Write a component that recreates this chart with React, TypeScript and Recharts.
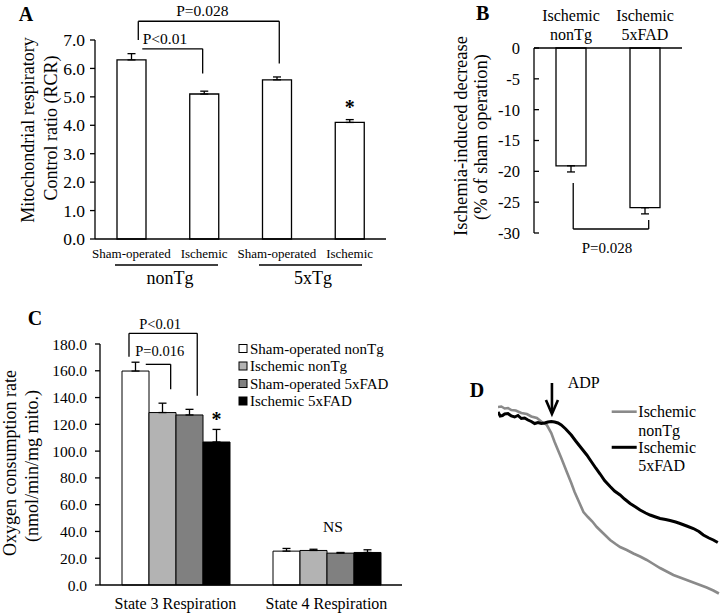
import React from 'react'
import {
  BarChart,
  Bar,
  XAxis,
  YAxis,
  ErrorBar,
  LabelList,
  ReferenceLine,
  LineChart,
  Line,
} from 'recharts'

const FONT = '"Liberation Serif", "Times New Roman", serif'
const INK = '#000'
const STROKE = 1.3

// #region Data
// A: mitochondrial respiratory control ratio
const rcrGroups = ['Sham-operated', 'Ischemic', 'Sham-operated', 'Ischemic']
const rcrMean = [6.3, 5.1, 5.6, 4.1]
const rcrSem = [0.22, 0.1, 0.1, 0.1]
const rcrMark = ['', '', '', '*']
const rcrTicks = [0, 1, 2, 3, 4, 5, 6, 7]

// B: ischemia-induced decrease (% of sham operation)
const dropGroups = ['Ischemic|nonTg', 'Ischemic|5xFAD']
const dropMean = [-19.1, -25.9]
const dropSem = [1.0, 1.0]
const dropTicks = [0, -5, -10, -15, -20, -25, -30]

// C: oxygen consumption rate
const stateLabels = ['State 3 Respiration', 'State 4 Respiration']
const groupNames = ['Sham-operated nonTg', 'Ischemic nonTg', 'Sham-operated 5xFAD', 'Ischemic 5xFAD']
const groupFills = ['#ffffff', '#b3b3b3', '#808080', '#000000']
const ocrMean = [
  [159.8, 25.3],
  [128.8, 25.8],
  [127.0, 23.8],
  [106.8, 24.3],
]
const ocrSem = [
  [6.6, 2.0],
  [7.0, 0.9],
  [4.2, 0.5],
  [9.4, 2.0],
]
const ocrMark = [
  ['', ''],
  ['', ''],
  ['', ''],
  ['*', ''],
]
const ocrTicks = [0, 20, 40, 60, 80, 100, 120, 140, 160, 180]

// D: oxygen electrode traces (time in s, O2 in arbitrary units)
const nonTgTime = [0, 3, 6, 9, 12, 16, 21, 26, 30, 35, 39, 44, 48, 51, 54, 57, 62, 66, 69, 73, 77, 81, 85, 89, 95, 101, 106, 110, 116, 122, 128, 134, 140, 146, 152, 158, 164, 170, 176, 182, 188, 194, 199]
const nonTgO2 = [193, 193.5, 191.5, 192, 190, 189.5, 187, 186, 183.5, 182, 178.5, 175, 167, 158, 150, 142, 128, 117, 108, 98, 88, 83, 78.5, 73, 66.5, 60, 56, 53, 50, 46.5, 43.5, 40, 36, 32, 28.5, 25, 22.5, 20, 17.5, 15, 12.5, 9.5, 6.5]
const fadTime = [0, 2, 4, 6, 9, 12, 15, 18, 21, 24, 27, 30, 33, 36, 39, 42, 45, 48, 51, 54, 57, 61, 66, 70, 75, 80, 84, 88, 92, 96, 101, 105, 110, 114, 119, 124, 128, 133, 137, 142, 146, 151, 155, 160, 164, 170, 176, 181, 185, 190, 194, 198]
const fadO2 = [188, 184, 184.5, 186, 186.5, 184, 183, 184.5, 181.5, 182, 180, 178.5, 176.5, 177.5, 176.5, 177, 178, 178.5, 178, 177, 175, 171, 165, 159, 152, 145, 138.5, 132, 126, 119.5, 113.5, 109, 105, 101, 96.5, 93, 90, 87, 85, 83, 81.5, 80.5, 79.5, 78, 76.5, 74, 71.5, 68.5, 65, 62, 60, 57.5]
const adpTime = 48.6
// #endregion

// "slot" is the category centre on a continuous axis, used only to place the brackets
const rcrData = rcrGroups.map((group, i) => ({
  group,
  slot: i + 0.5,
  mean: rcrMean[i],
  err: [0, rcrSem[i]],
  mark: rcrMark[i],
}))

const dropData = dropGroups.map((group, i) => ({
  group,
  slot: i + 0.5,
  mean: dropMean[i],
  err: [dropSem[i], 0],
}))

const ocrData = stateLabels.map((state, j) => {
  const row: Record<string, any> = { state, slot: j + 0.5 }
  groupNames.forEach((_, i) => {
    row[`m${i}`] = ocrMean[i][j]
    row[`e${i}`] = [0, ocrSem[i][j]]
    row[`k${i}`] = ocrMark[i][j]
  })
  return row
})

const nonTgTrace = nonTgTime.map((t, i) => ({ t, o2: nonTgO2[i] }))
const fadTrace = fadTime.map((t, i) => ({ t, o2: fadO2[i] }))

const tickStyle = (size: number) => ({ fill: INK, fontSize: size, fontFamily: FONT })
const lineStyle = { stroke: INK, strokeWidth: STROKE }

// one straight piece of a significance bracket, in data units on the hidden "pos" axis
const seg = (key: string, a: [number, number], b: [number, number], label?: any) => (
  <ReferenceLine
    key={key}
    xAxisId="pos"
    segment={[{ x: a[0], y: a[1] }, { x: b[0], y: b[1] }]}
    stroke={INK}
    strokeWidth={STROKE}
    ifOverflow="visible"
    label={label}
  />
)

const pLabel = (value: string, position: string, offset: number, size: number, dx = 0) => ({
  value,
  position,
  offset,
  dx,
  fill: INK,
  fontSize: size,
  fontFamily: FONT,
})

// two-line category label above panel B
const StackedTick = ({ x, y, payload }: any) => {
  const [l1, l2] = String(payload.value).split('|')
  return (
    <text x={x} y={y} textAnchor="middle" fill={INK} fontSize={16} fontFamily={FONT}>
      <tspan x={x} dy={-27.4}>{l1}</tspan>
      <tspan x={x} dy={19.4}>{l2}</tspan>
    </text>
  )
}

// ADP arrow drawn along a vertical reference segment
const ArrowShape = (p: any) => {
  const { x1, y1, x2, y2 } = p
  return (
    <g stroke={INK} strokeWidth={2.6} fill="none">
      <line x1={x1} y1={y1} x2={x2} y2={y2 - 2} />
      <polyline points={`${x2 - 6},${y2 - 14} ${x2},${y2} ${x2 + 6},${y2 - 14}`} />
    </g>
  )
}

export default function App() {
  return (
    <div style={{ position: 'absolute', left: 0, top: 0, width: 721, height: 614, background: '#fff', fontFamily: FONT }}>
      {/* A */}
      <div style={{ position: 'absolute', left: 0, top: 0 }}>
        <BarChart width={390} height={300} data={rcrData} margin={{ top: 40, right: 4, bottom: 31, left: 0 }}>
          <XAxis
            dataKey="group"
            height={30}
            interval={0}
            axisLine={lineStyle}
            tickLine={false}
            tickSize={0}
            tickMargin={10}
            tick={tickStyle(13)}
          />
          <XAxis xAxisId="pos" dataKey="slot" type="number" domain={[0, 4]} allowDataOverflow hide />
          <YAxis
            width={95}
            domain={[0, 7]}
            ticks={rcrTicks}
            interval={0}
            tickFormatter={(v: number) => v.toFixed(1)}
            axisLine={lineStyle}
            tickLine={lineStyle}
            tickSize={5}
            tickMargin={5}
            tick={tickStyle(17.5)}
          />
          <Bar dataKey="mean" fill="#fff" stroke={INK} strokeWidth={STROKE} barSize={29} isAnimationActive={false}>
            <ErrorBar dataKey="err" width={4} stroke={INK} strokeWidth={STROKE} direction="y" />
            <LabelList dataKey="mark" position="top" offset={8.5} fill={INK} fontSize={20} fontWeight="bold" fontFamily={FONT} />
          </Bar>
          {seg('a1', [0.595, 7.0], [0.595, 7.66])}
          {seg('a2', [0.595, 7.66], [2.533, 7.66], pLabel('P=0.028', 'top', 5.5, 15.5, -6.5))}
          {seg('a3', [2.533, 7.66], [2.533, 6.17])}
          {seg('a4', [0.65, 6.69], [1.48, 6.69], pLabel('P<0.01', 'top', 4.5, 15.5, -7.5))}
          {seg('a5', [1.48, 6.69], [1.48, 5.82])}
        </BarChart>
      </div>

      {/* B */}
      <div style={{ position: 'absolute', left: 380, top: 0 }}>
        <BarChart width={320} height={260} data={dropData} margin={{ top: 0, right: 18, bottom: 27, left: 0 }}>
          <XAxis
            dataKey="group"
            orientation="top"
            height={48}
            interval={0}
            axisLine={lineStyle}
            tickLine={false}
            tickSize={0}
            tickMargin={0}
            tick={<StackedTick />}
          />
          <XAxis xAxisId="pos" dataKey="slot" type="number" domain={[0, 2]} allowDataOverflow hide />
          <YAxis
            width={154}
            domain={[-30, 0]}
            ticks={dropTicks}
            interval={0}
            axisLine={lineStyle}
            tickLine={lineStyle}
            tickSize={-5}
            tickMargin={19}
            tick={tickStyle(16.5)}
          />
          <Bar dataKey="mean" fill="#fff" stroke={INK} strokeWidth={STROKE} barSize={30} isAnimationActive={false}>
            <ErrorBar dataKey="err" width={4} stroke={INK} strokeWidth={STROKE} direction="y" />
          </Bar>
          {seg('b1', [0.53, -21.9], [0.53, -29.35])}
          {seg('b2', [0.53, -29.35], [1.55, -29.35], pLabel('P=0.028', 'bottom', 13, 15, -4))}
          {seg('b3', [1.55, -29.35], [1.55, -27.9])}
        </BarChart>
      </div>

      {/* C */}
      <div style={{ position: 'absolute', left: 0, top: 300 }}>
        <BarChart width={420} height={314} data={ocrData} barGap={0} margin={{ top: 44, right: 18, bottom: 0, left: 0 }}>
          <XAxis
            dataKey="state"
            height={29}
            interval={0}
            axisLine={lineStyle}
            tickLine={false}
            tickSize={0}
            tickMargin={12.6}
            tick={tickStyle(16)}
          />
          <XAxis xAxisId="pos" dataKey="slot" type="number" domain={[0, 2]} allowDataOverflow hide />
          <YAxis
            width={100}
            domain={[0, 180]}
            ticks={ocrTicks}
            interval={0}
            tickFormatter={(v: number) => v.toFixed(1)}
            axisLine={lineStyle}
            tickLine={lineStyle}
            tickSize={5}
            tickMargin={8}
            tick={tickStyle(15.5)}
          />
          {groupNames.map((name, i) => (
            <Bar
              key={name}
              name={name}
              dataKey={`m${i}`}
              fill={groupFills[i]}
              stroke={INK}
              strokeWidth={1}
              barSize={27}
              isAnimationActive={false}
            >
              <ErrorBar dataKey={`e${i}`} width={4} stroke={INK} strokeWidth={STROKE} direction="y" />
              <LabelList dataKey={`k${i}`} position="top" offset={16} fill={INK} fontSize={20} fontWeight="bold" fontFamily={FONT} />
            </Bar>
          ))}
          {seg('c1', [0.192, 170.5], [0.192, 188.0])}
          {seg('c2', [0.192, 188.0], [0.644, 188.0], pLabel('P<0.01', 'top', 4.5, 14.5, -3))}
          {seg('c3', [0.644, 188.0], [0.644, 141.4])}
          {seg('c4', [0.303, 164.8], [0.468, 164.8], pLabel('P=0.016', 'top', 8.5, 14.5, 1.5))}
          {seg('c5', [0.468, 164.8], [0.468, 146.2])}
        </BarChart>
      </div>

      {/* D: plot area spans y 400..600, extra top margin leaves room for the ADP arrow */}
      <div style={{ position: 'absolute', left: 498, top: 370 }}>
        <LineChart width={222} height={230} margin={{ top: 30, right: 0, bottom: 0, left: 0 }}>
          <XAxis dataKey="t" type="number" domain={[0, 200]} allowDataOverflow hide />
          <YAxis type="number" domain={[0, 200]} allowDataOverflow hide />
          <Line data={nonTgTrace} dataKey="o2" stroke="#8a8a8a" strokeWidth={2.6} dot={false} isAnimationActive={false} />
          <Line data={fadTrace} dataKey="o2" stroke={INK} strokeWidth={3} dot={false} isAnimationActive={false} />
          <ReferenceLine
            segment={[{ x: adpTime, y: 217 }, { x: adpTime, y: 186 }]}
            ifOverflow="visible"
            shape={ArrowShape}
          />
        </LineChart>
      </div>

      {/* text and decorations outside the plot areas */}
      <svg
        width={721}
        height={614}
        style={{ position: 'absolute', left: 0, top: 0, pointerEvents: 'none' }}
        fontFamily={FONT}
        fill={INK}
      >
        <text x={26} y={20.7} fontSize={20} fontWeight="bold" textAnchor="middle">A</text>
        <text x={482.7} y={20} fontSize={20} fontWeight="bold" textAnchor="middle">B</text>
        <text x={35} y={325} fontSize={20} fontWeight="bold" textAnchor="middle">C</text>
        <text x={477} y={397} fontSize={20} fontWeight="bold" textAnchor="middle">D</text>

        <text transform="translate(33.5,130) rotate(-90)" fontSize={18} textAnchor="middle">Mitochondrial  respiratory</text>
        <text transform="translate(57,128) rotate(-90)" fontSize={18} textAnchor="middle">Control ratio (RCR)</text>

        <line x1={115} y1={265} x2={218} y2={265} stroke={INK} strokeWidth={1.5} />
        <line x1={259} y1={265} x2={362} y2={265} stroke={INK} strokeWidth={1.5} />
        <text x={170} y={283.5} fontSize={18} textAnchor="middle">nonTg</text>
        <text x={313} y={283.5} fontSize={18} textAnchor="middle">5xTg</text>

        <text transform="translate(466.5,136) rotate(-90)" fontSize={18.5} textAnchor="middle">Ischemia-induced  decrease</text>
        <text transform="translate(486.6,137) rotate(-90)" fontSize={18.5} textAnchor="middle">(% of sham operation)</text>

        <text transform="translate(15.5,463) rotate(-90)" fontSize={18} textAnchor="middle">Oxygen  consumption  rate</text>
        <text transform="translate(37.5,466) rotate(-90)" fontSize={18} textAnchor="middle">(nmol/min/mg mito.)</text>

        {groupNames.map((name, i) => {
          const cy = 348.5 + i * 17.5
          return (
            <g key={name}>
              <rect x={239} y={cy - 4} width={8} height={8} fill={groupFills[i]} stroke={INK} strokeWidth={1} />
              <text x={250} y={cy + 5} fontSize={15}>{name}</text>
            </g>
          )
        })}

        <text x={333} y={531.7} fontSize={15.5} textAnchor="middle">NS</text>

        <text x={567.7} y={388} fontSize={16}>ADP</text>
        <line x1={611.7} y1={411.7} x2={636.7} y2={411.7} stroke="#8a8a8a" strokeWidth={2.6} />
        <text x={638.3} y={417.3} fontSize={16}>Ischemic</text>
        <text x={638.3} y={435.6} fontSize={16}>nonTg</text>
        <line x1={611.7} y1={447.3} x2={636.7} y2={447.3} stroke={INK} strokeWidth={3} />
        <text x={638.3} y={453} fontSize={16}>Ischemic</text>
        <text x={638.3} y={470.6} fontSize={16}>5xFAD</text>
      </svg>
    </div>
  )
}
